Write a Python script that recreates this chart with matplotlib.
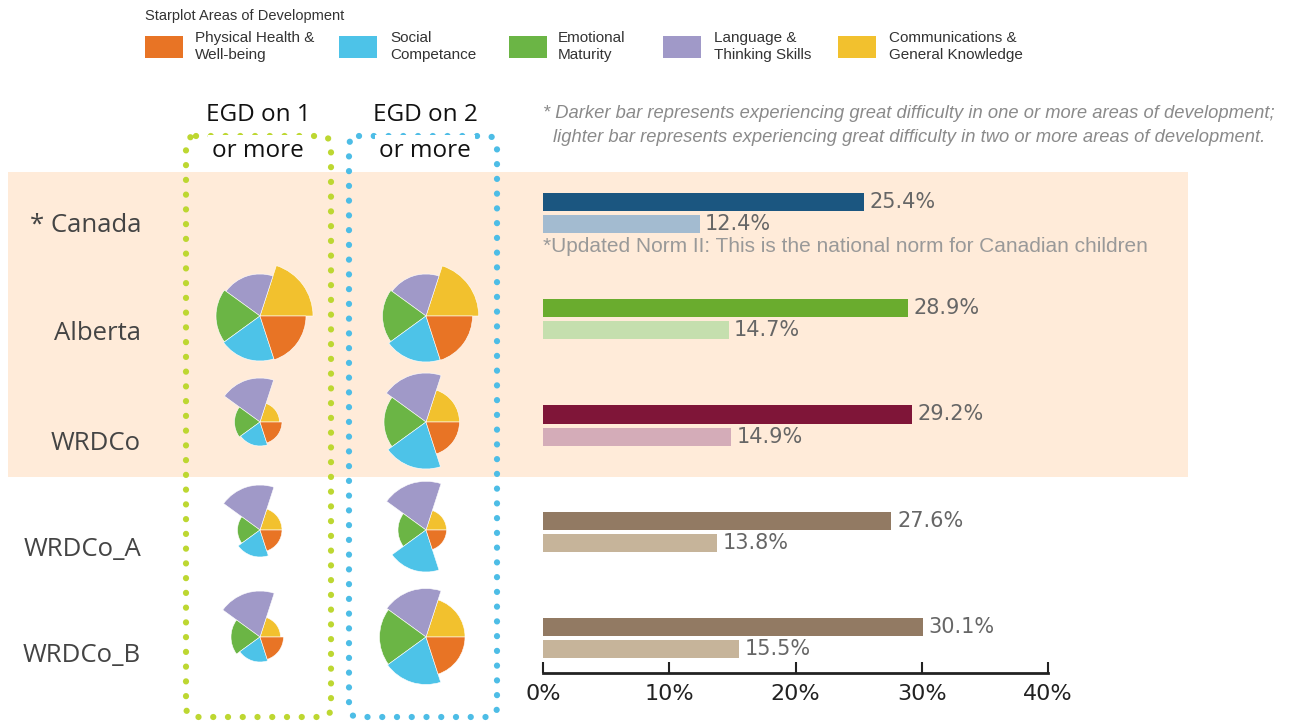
import matplotlib
matplotlib.use("Agg")
import matplotlib.pyplot as plt
from matplotlib.patches import Rectangle, FancyBboxPatch
import numpy as np

W, H = 1302, 721

# ---------------- data ----------------
regions = ["* Canada", "Alberta", "WRDCo", "WRDCo_A", "WRDCo_B"]
egd1_pct = [25.4, 28.9, 29.2, 27.6, 30.1]   # darker bars
egd2_pct = [12.4, 14.7, 14.9, 13.8, 15.5]   # lighter bars
dark_colors = ["#1B5680", "#6AAC2E", "#7F1538", "#927A63", "#927A63"]
light_colors = ["#A3BBD0", "#C5DFAE", "#D4ACB8", "#C6B49A", "#C6B49A"]
xticks = [0, 10, 20, 30, 40]
xtick_labels = ["0%", "10%", "20%", "30%", "40%"]

domains = ["Physical Health &\nWell-being", "Social\nCompetance", "Emotional\nMaturity",
           "Language &\nThinking Skills", "Communications &\nGeneral Knowledge"]
domain_colors = ["#E87425", "#4DC3E8", "#6BB545", "#A099C8", "#F2C12E"]
# starplot radii (domain order above); Canada has no starplot
star_regions = ["Alberta", "WRDCo", "WRDCo_A", "WRDCo_B"]
star_egd1 = [[46, 45, 44, 42, 53],
             [22, 24, 25.5, 44, 19.5],
             [22, 27, 22.5, 45, 22],
             [23.5, 25, 29, 46, 20.5]]
star_egd2 = [[46.5, 46, 43.5, 42, 52.7],
             [33.5, 47, 42, 49, 33.5],
             [20.5, 42, 28, 48.7, 20.5],
             [39, 47.5, 46.5, 48.5, 39]]
# sector angle order counter-clockwise from east: Comm, Language, Emotional, Social, Physical
sector_order = [4, 3, 2, 1, 0]

fig = plt.figure(figsize=(W / 100, H / 100), dpi=100)
fig.patch.set_facecolor("white")

def fx(x):
    return x / W

def fy(y):
    return 1 - y / H

# overlay axes in pixel coords for decorations
ov = fig.add_axes([0, 0, 1, 1], zorder=0)
ov.set_xlim(0, W)
ov.set_ylim(H, 0)
ov.axis("off")

ov.add_patch(Rectangle((8, 172), 1180, 305, facecolor="#FFEBD9", edgecolor="none", zorder=0))

for (x0, x1, col) in [(186, 331, "#BDD731"), (349, 497, "#4DBDE6")]:
    p = FancyBboxPatch((x0, 136), x1 - x0, 717 - 136,
                       boxstyle="round,pad=0,rounding_size=10",
                       facecolor="none", edgecolor=col, linewidth=4.5,
                       linestyle=(0, (0.01, 2.35)), zorder=2)
    p.set_capstyle("round")
    ov.add_patch(p)

# legend
ov.text(145, 16, "Starplot Areas of Development", fontsize=10.5, color="#333333",
        family="Liberation Sans", va="center", ha="left")
leg_patch_x = [145, 339, 509, 663, 838]
leg_text_x = [195, 390, 558, 714, 889]
for i in range(5):
    ov.add_patch(Rectangle((leg_patch_x[i], 36), 38, 22, facecolor=domain_colors[i],
                           edgecolor="none", zorder=3))
    ov.text(leg_text_x[i], 46.5, domains[i], fontsize=11, color="#333333",
            family="Liberation Sans", va="center", ha="left", linespacing=1.2)

# headers (white background hides the dotted top edge behind the text)
for cx, n in [(258, 1), (425, 2)]:
    ov.text(cx, 115, f"EGD on {n}", fontsize=17.5, color="#111111", family="Open Sans",
            ha="center", va="center", zorder=4)
    ov.text(cx, 151, "or more", fontsize=17.5, color="#111111", family="Open Sans",
            ha="center", va="center", zorder=4,
            bbox=dict(facecolor="white", edgecolor="none", pad=3))

# note
ov.text(543, 113, "* Darker bar represents experiencing great difficulty in one or more areas of development;",
        fontsize=13.2, style="italic", color="#8A8A8A", family="Liberation Sans", va="center")
ov.text(553, 137, "lighter bar represents experiencing great difficulty in two or more areas of development.",
        fontsize=13.2, style="italic", color="#8A8A8A", family="Liberation Sans", va="center")

# row labels
label_y = [225, 334, 443, 550, 656]
for name, y in zip(regions, label_y):
    ov.text(141, y, name, fontsize=18.5, color="#444444", family="Open Sans",
            ha="right", va="center")

ov.text(543, 246, "*Updated Norm II: This is the national norm for Canadian children",
        fontsize=15, color="#999999", family="Liberation Sans", va="center")

# ---------------- bar axes ----------------
ax = fig.add_axes([fx(543), fy(673), 505 / W, 513 / H], zorder=2)
ax.set_facecolor("none")
ypos = np.arange(len(regions))
bh = 0.17
b1 = ax.barh(ypos - 0.104, egd1_pct, height=bh, color=dark_colors)
b2 = ax.barh(ypos + 0.104, egd2_pct, height=bh, color=light_colors)
for bars in (b1, b2):
    ax.bar_label(bars, labels=[f"{v:.1f}%" for v in bars.datavalues], padding=4,
                 fontsize=15, color="#666666", family="DejaVu Sans")
ax.set_xlim(0, 40)
ax.set_ylim(4.33, -0.5)
for s in ["top", "right", "left"]:
    ax.spines[s].set_visible(False)
ax.spines["bottom"].set_color("#222222")
ax.spines["bottom"].set_linewidth(2)
ax.set_yticks([])
ax.set_xticks(xticks)
ax.set_xticklabels(xtick_labels)
ax.tick_params(axis="x", direction="in", length=8, width=1.5, color="#222222",
               labelsize=16, labelcolor="#222222", pad=8)

# ---------------- starplots ----------------
row_y = [316, 422, 530, 637]
col_x = [260, 426]
R = 60
theta = np.deg2rad(36 + 72 * np.arange(5))
for r, cy in enumerate(row_y):
    for c, (cx, data) in enumerate(zip(col_x, [star_egd1, star_egd2])):
        pax = fig.add_axes([fx(cx - R), fy(cy + R), 2 * R / W, 2 * R / H],
                           projection="polar", zorder=3)
        vals = [data[r][k] for k in sector_order]
        cols = [domain_colors[k] for k in sector_order]
        pax.bar(theta, vals, width=np.deg2rad(72), color=cols, linewidth=0.4,
                edgecolor="white", align="center")
        pax.set_ylim(0, R)
        pax.axis("off")
        pax.patch.set_visible(False)

fig.savefig("out.png", dpi=100)
